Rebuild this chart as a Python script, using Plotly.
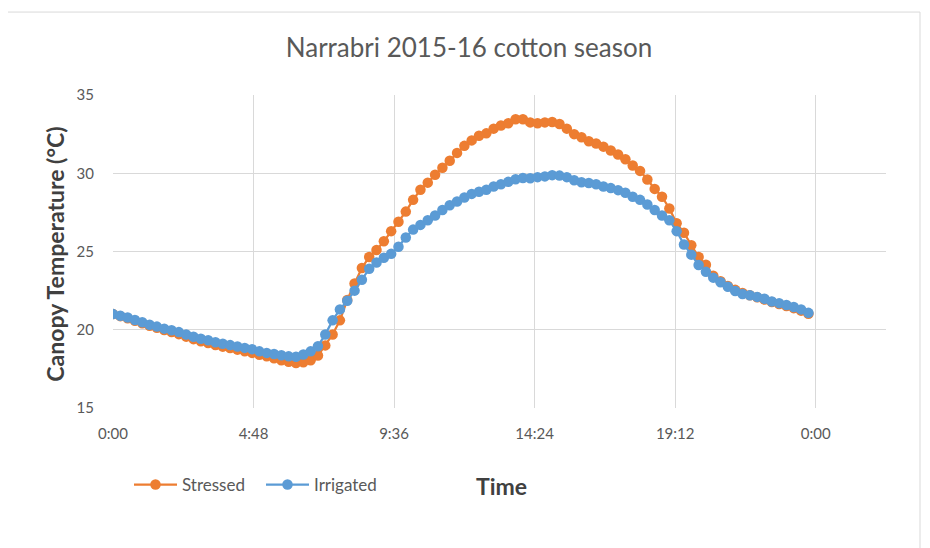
import plotly.graph_objects as go

# time of day in hours, every 15 minutes
hours = [i * 0.25 for i in range(96)]

stressed = [
    21.0, 20.87, 20.73, 20.57, 20.42, 20.26, 20.12, 19.98, 19.86, 19.72, 19.56, 19.4,
    19.27, 19.15, 19.03, 18.92, 18.83, 18.73, 18.63, 18.52, 18.4, 18.3, 18.18, 18.05,
    17.95, 17.88, 17.92, 18.05, 18.35, 19.0, 19.7, 20.6, 21.9, 22.95, 23.95, 24.65,
    25.1, 25.65, 26.3, 26.9, 27.55, 28.3, 28.95, 29.4, 29.9, 30.35, 30.8, 31.3,
    31.75, 32.1, 32.4, 32.55, 32.85, 33.05, 33.2, 33.45, 33.45, 33.25, 33.2, 33.25,
    33.27, 33.15, 32.85, 32.5, 32.3, 32.05, 31.9, 31.7, 31.45, 31.2, 30.9, 30.5,
    30.15, 29.6, 29.0, 28.5, 27.75, 26.8, 26.2, 25.4, 24.65, 24.15, 23.45, 23.1,
    22.8, 22.55, 22.35, 22.2, 22.08, 21.93, 21.77, 21.65, 21.52, 21.38, 21.22, 21.02,
]

irrigated = [
    21.0, 20.9, 20.78, 20.62, 20.48, 20.32, 20.2, 20.07, 19.97, 19.85, 19.7, 19.55,
    19.43, 19.33, 19.2, 19.1, 19.02, 18.93, 18.84, 18.76, 18.62, 18.52, 18.45, 18.37,
    18.3, 18.28, 18.42, 18.62, 18.95, 19.7, 20.6, 21.3, 21.85, 22.5, 23.2, 23.9,
    24.3, 24.6, 24.85, 25.3, 25.9, 26.4, 26.7, 27.0, 27.3, 27.65, 27.95, 28.2,
    28.45, 28.68, 28.82, 28.95, 29.15, 29.3, 29.45, 29.62, 29.7, 29.68, 29.75, 29.8,
    29.88, 29.85, 29.75, 29.55, 29.42, 29.38, 29.3, 29.15, 29.05, 28.92, 28.75, 28.5,
    28.3, 28.0, 27.65, 27.3, 27.0, 26.3, 25.45, 24.8, 24.14, 23.7, 23.33, 23.03,
    22.75, 22.48, 22.28, 22.2, 22.1, 21.98, 21.8, 21.7, 21.58, 21.45, 21.3, 21.08,
]

tick_vals = [0, 4.8, 9.6, 14.4, 19.2, 24.0]
tick_text = ["0:00", "4:48", "9:36", "14:24", "19:12", "0:00"]
y_ticks = [15, 20, 25, 30, 35]

FONT = "Lato, Roboto, sans-serif"
ORANGE = "#ED7D31"
BLUE = "#5B9BD5"

fig = go.Figure()
fig.add_trace(go.Scatter(
    x=hours, y=stressed, name="Stressed", mode="lines+markers",
    line=dict(color=ORANGE, width=2.25),
    marker=dict(color=ORANGE, size=10.5, symbol="circle"),
))
fig.add_trace(go.Scatter(
    x=hours, y=irrigated, name="Irrigated", mode="lines+markers",
    line=dict(color=BLUE, width=2.25),
    marker=dict(color=BLUE, size=10.5, symbol="circle"),
))

fig.update_layout(
    width=922, height=540,
    margin=dict(l=105, r=44, t=87, b=140),
    paper_bgcolor="white", plot_bgcolor="white",
    font=dict(family=FONT, color="#595959", size=15),
    title=dict(text="Narrabri 2015-16 cotton season", x=0.5, xanchor="center",
               y=1 - 40 / 540, yanchor="middle",
               font=dict(family=FONT, size=26, color="#595959")),
    showlegend=True,
    legend=dict(orientation="h", x=0.0207, xanchor="left", y=-0.246, yanchor="middle",
                font=dict(family=FONT, size=17, color="#595959"),
                bgcolor="rgba(0,0,0,0)", itemwidth=43, tracegroupgap=0,
                entrywidth=74, entrywidthmode="pixels"),
    xaxis=dict(range=[0, 26.4], tickvals=tick_vals, ticktext=tick_text,
               showgrid=True, gridcolor="#d9d9d9", gridwidth=1,
               zeroline=False, showline=False,
               ticks="outside", ticklen=12, tickcolor="rgba(0,0,0,0)",
               tickfont=dict(family=FONT, size=15, color="#595959")),
    yaxis=dict(range=[15, 35], tickvals=y_ticks,
               showgrid=True, gridcolor="#d9d9d9", gridwidth=1,
               zeroline=False, showline=False,
               ticks="outside", ticklen=15, tickcolor="rgba(0,0,0,0)",
               tickfont=dict(family=FONT, size=15, color="#595959")),
    annotations=[
        dict(text="<b>Time</b>", xref="paper", yref="paper", x=0.503, y=-0.249,
             xanchor="center", yanchor="middle", showarrow=False,
             font=dict(family=FONT, size=23, color="#404040")),
        dict(text="<b>Canopy Temperature (°C)</b>", xref="paper", yref="paper",
             x=-0.075, y=0.49, xanchor="center", yanchor="middle", textangle=-90,
             showarrow=False, font=dict(family=FONT, size=23, color="#404040")),
    ],
    shapes=[
        dict(type="rect", xref="paper", yref="paper", x0=-0.137, x1=1.044,
             y0=-0.49, y1=1.265, line=dict(color="#d9d9d9", width=1),
             fillcolor="rgba(0,0,0,0)", layer="below"),
    ],
)

fig.write_html("out.html")
